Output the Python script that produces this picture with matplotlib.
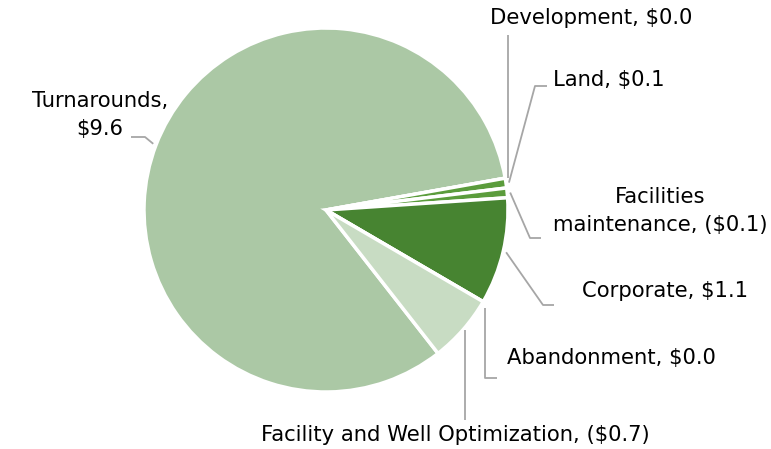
import numpy as np
import matplotlib.pyplot as plt

## data, in the chart's clockwise order
labels = ['Turnarounds', 'Development', 'Land', 'Facilities maintenance',
          'Corporate', 'Abandonment', 'Facility and Well Optimization']
values = [9.6, 0.0, 0.1, -0.1, 1.1, 0.0, -0.7]
colors = ['#abc8a5', '#5b9c3c', '#5b9c3c', '#5b9c3c',
          '#478431', '#c8dcc3', '#c8dcc3']

H = 449
def px(x, y):
    # pixel coords (from top-left) -> data coords
    return x, H - y

def money(v):
    if v < 0:
        return '(${:.1f})'.format(-v)
    return '${:.1f}'.format(v)

plt.rcParams['font.family'] = ['DejaVu Sans']

fig = plt.figure(figsize=(7.71, 4.49), dpi=100)
ax = fig.add_axes([0, 0, 1, 1])

cx, cy = px(326, 210)
rad = 182
wedges, _ = ax.pie(np.abs(values), colors=colors, startangle=-52, counterclock=False,
                   center=(cx, cy), radius=rad,
                   wedgeprops=dict(edgecolor='white', linewidth=2.5))
ax.set_xlim(0, 771)
ax.set_ylim(0, H)
ax.set_aspect('equal')
ax.axis('off')

## label layout: text position, alignment, elbow points (pixels)
## vert=True -> leader drops straight down/up from the first elbow to the wedge
layout = {
    'Turnarounds':  dict(txt=(100, 115), ha='center', pts=[(145, 137), (131, 137)], text='Turnarounds,\n$9.6'),
    'Development':  dict(txt=(591, 18), ha='center', pts=[(508, 35)], vert=True),
    'Land':         dict(txt=(553, 80), ha='left', pts=[(535, 86), (547, 86)]),
    'Facilities maintenance': dict(txt=(660, 211), ha='center', pts=[(530, 238), (541, 238)],
                                   text='Facilities\nmaintenance, ($0.1)'),
    'Corporate':    dict(txt=(665, 291), ha='center', pts=[(543, 305), (554, 305)]),
    'Abandonment':  dict(txt=(507, 358), ha='left', pts=[(485, 378), (497, 378)], vert=True),
    'Facility and Well Optimization': dict(txt=(455, 435), ha='center', pts=[(465, 420)], vert=True),
}

for w, lab, v in zip(wedges, labels, values):
    L = layout[lab]
    mid = np.deg2rad((w.theta1 + w.theta2) / 2)
    pts = [px(*p) for p in L['pts']]
    if L.get('vert'):
        x0 = pts[0][0]
        if lab == 'Development':
            y0 = cy + rad * np.sin(mid)
        else:
            # point where the vertical hits the pie outline (below centre)
            y0 = cy - np.sqrt(max(rad**2 - (x0 - cx)**2, 0)) - 3
            if lab == 'Abandonment':
                y0 = cy + rad * np.sin(mid) - 6
    else:
        x0 = cx + (rad + 3) * np.cos(mid)
        y0 = cy + (rad + 3) * np.sin(mid)
    xs = [x0] + [p[0] for p in pts]
    ys = [y0] + [p[1] for p in pts]
    ax.plot(xs, ys, color='#a6a6a6', lw=1.3, solid_capstyle='butt')
    text = L.get('text', '{}, {}'.format(lab, money(v)))
    tx, ty = px(*L['txt'])
    ax.text(tx, ty, text, ha=L['ha'], va='center', fontsize=15.2, color='black',
            linespacing=1.55, multialignment='center')

fig.savefig('out.png', dpi=100)
